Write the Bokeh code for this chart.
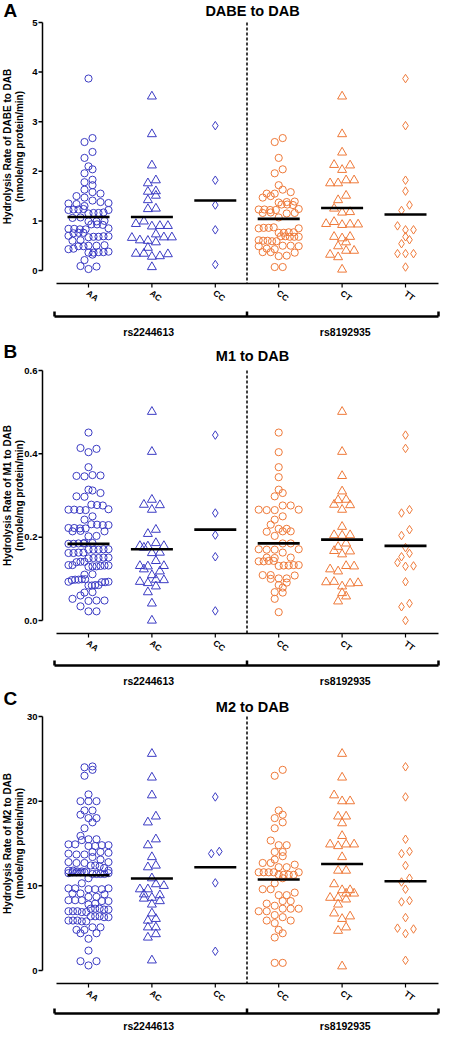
import math
from bokeh.plotting import figure
from bokeh.layouts import column
from bokeh.models import Range1d
from bokeh.core.properties import value
from bokeh.embed import file_html
from bokeh.resources import INLINE

# ---------------- data ----------------
CATEGORIES = ["AA", "AC", "CC", "CC", "CT", "TT"]
GROUP_LABELS = ["rs2244613", "rs8192935"]

# Panel A: DABE to DAB
A_AA = [3.87, 2.67, 2.59, 2.39, 2.27, 2.10, 2.04, 1.96, 1.83, 1.78, 1.72, 1.63, 1.58, 1.55, 1.50, 1.47,
        1.41, 1.38, 1.36, 1.35, 1.34, 1.30, 1.24, 1.23, 1.23, 1.22, 1.22, 1.17, 1.16, 1.16, 1.15, 1.07,
        1.06, 1.00, 0.99, 0.99, 0.93, 0.93, 0.92, 0.85, 0.84, 0.84, 0.83, 0.83, 0.76, 0.76, 0.75, 0.70,
        0.69, 0.69, 0.68, 0.68, 0.67, 0.61, 0.60, 0.51, 0.50, 0.50, 0.49, 0.49, 0.44, 0.43, 0.38, 0.37,
        0.37, 0.36, 0.36, 0.32, 0.21, 0.09, 0.08, 0.03]
A_AC = [3.51, 2.75, 2.12, 1.82, 1.76, 1.60, 1.59, 1.51, 1.42, 1.25, 1.24, 0.99, 0.94, 0.90, 0.90, 0.89,
        0.73, 0.67, 0.67, 0.66, 0.61, 0.60, 0.57, 0.46, 0.34, 0.34, 0.33, 0.29, 0.28, 0.07]
A_CC1 = [2.92, 1.82, 1.32, 0.82, 0.12]
A_CC2 = [2.67, 2.59, 2.27, 2.04, 1.96, 1.72, 1.63, 1.58, 1.55, 1.55, 1.50, 1.47, 1.39, 1.38, 1.37, 1.33,
         1.33, 1.32, 1.24, 1.23, 1.23, 1.22, 1.22, 1.17, 1.16, 1.16, 1.15, 1.07, 0.87, 0.86, 0.86, 0.85,
         0.85, 0.77, 0.77, 0.76, 0.76, 0.69, 0.69, 0.68, 0.68, 0.68, 0.61, 0.60, 0.60, 0.59, 0.59, 0.50,
         0.50, 0.49, 0.49, 0.44, 0.43, 0.37, 0.37, 0.36, 0.30, 0.29, 0.07, 0.07]
A_CT = [3.51, 2.75, 2.38, 2.13, 2.12, 2.03, 1.82, 1.82, 1.76, 1.76, 1.51, 1.42, 1.25, 1.18, 1.17, 0.98,
        0.94, 0.93, 0.93, 0.92, 0.68, 0.68, 0.65, 0.57, 0.49, 0.40, 0.40, 0.32, 0.27, 0.02]
A_TT = [3.87, 2.92, 1.82, 1.60, 1.32, 1.21, 0.90, 0.82, 0.82, 0.68, 0.62, 0.54, 0.34, 0.34, 0.34, 0.07]
A_MEANS = [1.08, 1.08, 1.41, 1.04, 1.26, 1.13]
A_TICKS = [0, 1, 2, 3, 4, 5]
A_TICK_LABELS = ["0", "1", "2", "3", "4", "5"]

# Panel B: M1 to DAB
B_AA = [0.451, 0.414, 0.412, 0.404, 0.368, 0.349, 0.348, 0.347, 0.346, 0.314, 0.312, 0.306, 0.298, 0.297,
        0.278, 0.277, 0.276, 0.267, 0.266, 0.266, 0.265, 0.265, 0.250, 0.242, 0.231, 0.230, 0.229, 0.229,
        0.222, 0.222, 0.221, 0.221, 0.215, 0.214, 0.214, 0.203, 0.202, 0.186, 0.186, 0.185, 0.185, 0.184,
        0.184, 0.171, 0.171, 0.170, 0.170, 0.170, 0.163, 0.163, 0.162, 0.162, 0.151, 0.151, 0.150, 0.150,
        0.149, 0.141, 0.141, 0.140, 0.133, 0.133, 0.132, 0.132, 0.131, 0.130, 0.130, 0.129, 0.111, 0.110,
        0.099, 0.099, 0.098, 0.098, 0.097, 0.093, 0.093, 0.092, 0.092, 0.085, 0.085, 0.084, 0.084, 0.068,
        0.067, 0.060, 0.052, 0.048, 0.048, 0.047, 0.034, 0.022, 0.022]
B_AC = [0.501, 0.405, 0.290, 0.278, 0.277, 0.266, 0.218, 0.208, 0.186, 0.179, 0.179, 0.178, 0.175, 0.163,
        0.162, 0.143, 0.131, 0.131, 0.130, 0.123, 0.118, 0.109, 0.098, 0.097, 0.093, 0.090, 0.082, 0.068,
        0.041, 0.000]
B_CC1 = [0.445, 0.258, 0.205, 0.153, 0.023]
B_CC2 = [0.451, 0.404, 0.368, 0.344, 0.314, 0.306, 0.298, 0.276, 0.276, 0.266, 0.266, 0.265, 0.265, 0.250,
         0.242, 0.230, 0.220, 0.220, 0.214, 0.214, 0.213, 0.203, 0.185, 0.185, 0.171, 0.171, 0.170, 0.170,
         0.163, 0.151, 0.151, 0.150, 0.143, 0.143, 0.142, 0.142, 0.133, 0.133, 0.132, 0.132, 0.131, 0.109,
         0.109, 0.108, 0.101, 0.101, 0.100, 0.091, 0.085, 0.079, 0.068, 0.067, 0.052, 0.020]
B_CT = [0.501, 0.405, 0.347, 0.310, 0.290, 0.289, 0.278, 0.277, 0.266, 0.225, 0.205, 0.205, 0.204, 0.185,
        0.177, 0.167, 0.166, 0.159, 0.131, 0.130, 0.123, 0.118, 0.093, 0.092, 0.090, 0.089, 0.082, 0.066,
        0.058, 0.046]
B_TT = [0.445, 0.413, 0.266, 0.258, 0.218, 0.204, 0.175, 0.161, 0.153, 0.139, 0.131, 0.130, 0.093, 0.041,
        0.033, 0.000]
B_MEANS = [0.184, 0.171, 0.218, 0.185, 0.194, 0.179]
B_TICKS = [0, 0.2, 0.4, 0.6]
B_TICK_LABELS = ["0.0", "0.2", "0.4", "0.6"]

# Panel C: M2 to DAB
C_AA = [24.1, 24.0, 23.7, 23.0, 20.8, 20.0, 20.0, 20.0, 18.9, 18.9, 18.4, 18.0, 18.0, 17.5, 16.8, 15.9,
        15.5, 15.5, 15.4, 14.9, 14.9, 14.8, 14.8, 14.7, 14.7, 14.0, 14.0, 13.9, 13.8, 13.7, 13.7, 13.4,
        13.1, 12.8, 12.8, 12.7, 12.7, 12.4, 12.4, 12.3, 12.1, 11.8, 11.8, 11.8, 11.7, 11.7, 11.7, 11.6,
        11.6, 11.6, 11.6, 11.5, 11.5, 11.4, 11.4, 11.4, 11.4, 10.9, 10.3, 9.7, 9.7, 9.7, 9.6, 9.6, 9.6,
        9.1, 9.1, 9.0, 8.7, 8.7, 8.3, 8.3, 8.3, 8.2, 8.2, 7.9, 7.8, 7.3, 7.3, 7.3, 7.2, 7.2, 7.0, 7.0,
        7.0, 6.9, 6.9, 6.4, 6.4, 6.4, 6.3, 6.3, 5.9, 5.9, 5.9, 5.8, 5.8, 5.1, 5.1, 4.8, 4.8, 4.4, 4.4,
        3.75, 2.35, 1.1, 1.1, 0.6]
C_AC = [25.6, 22.8, 20.7, 18.2, 17.5, 15.5, 14.8, 13.4, 12.4, 12.2, 10.9, 10.2, 10.0, 9.6, 9.6, 9.0,
        8.9, 8.6, 8.5, 8.2, 7.8, 6.75, 6.1, 5.9, 5.1, 5.1, 4.3, 3.9, 1.2]
C_CC1 = [20.5, 14.06, 13.8, 10.35, 2.27]
C_CC2 = [23.7, 23.0, 18.9, 18.4, 18.0, 17.5, 16.8, 15.35, 14.8, 14.8, 14.0, 14.0, 13.5, 13.1, 12.7, 12.7,
         12.5, 12.2, 12.2, 11.6, 11.6, 11.6, 11.6, 11.6, 11.3, 11.3, 11.3, 11.3, 10.9, 10.3, 9.6, 9.6,
         9.2, 8.9, 8.9, 8.2, 8.2, 7.9, 7.65, 7.3, 7.3, 7.3, 7.0, 7.0, 6.55, 6.3, 5.9, 5.9, 5.6, 4.8, 4.4,
         3.9, 0.9, 0.9]
C_CT = [25.6, 22.8, 20.7, 20.0, 20.0, 18.2, 18.2, 17.4, 15.9, 14.9, 14.9, 14.9, 14.7, 13.4, 11.8, 11.8,
        10.2, 9.5, 9.5, 9.1, 9.1, 8.6, 8.6, 8.4, 7.8, 6.75, 6.4, 6.1, 5.1, 4.7, 0.5]
C_TT = [24.06, 20.5, 15.5, 14.06, 13.8, 12.4, 10.9, 10.45, 9.6, 8.25, 8.1, 6.25, 5.0, 4.9, 4.35, 1.2]
C_MEANS = [11.25, 10.86, 12.2, 10.75, 12.58, 10.55]
C_TICKS = [0, 10, 20, 30]
C_TICK_LABELS = ["0", "10", "20", "30"]

PANELS = [
    dict(letter="A", title="DABE to DAB", ylabel="Hydrolysis Rate of DABE to DAB",
         groups=[A_AA, A_AC, A_CC1, A_CC2, A_CT, A_TT], means=A_MEANS,
         ticks=A_TICKS, tick_labels=A_TICK_LABELS),
    dict(letter="B", title="M1 to DAB", ylabel="Hydrolysis Rate of M1 to DAB",
         groups=[B_AA, B_AC, B_CC1, B_CC2, B_CT, B_TT], means=B_MEANS,
         ticks=B_TICKS, tick_labels=B_TICK_LABELS),
    dict(letter="C", title="M2 to DAB", ylabel="Hydrolysis Rate of M2 to DAB",
         groups=[C_AA, C_AC, C_CC1, C_CC2, C_CT, C_TT], means=C_MEANS,
         ticks=C_TICKS, tick_labels=C_TICK_LABELS),
]
YLABEL2 = "(nmole/mg protein/min)"

# ---------------- layout / style ----------------
W = 441
SX = 63.4          # px per category
X0 = 88            # px of first category
X_YAXIS = 42
LAYOUT = [  # height, letter y, title y, top-tick y, zero y, x-axis y, bracket y, group-label y
    dict(H=340, ly=10, ty=10, ptop=22, p0=270, pxa=283, pbr=316, pgl=331),
    dict(H=346, ly=11, ty=15, ptop=30, p0=280, pxa=293, pbr=325, pgl=340),
    dict(H=346, ly=12, ty=20, ptop=30, p0=284, pxa=297, pbr=327, pgl=339),
]
BLUE = "#3C3CC4"
ORANGE = "#EF7A3A"
COLORS = [BLUE] * 3 + [ORANGE] * 3
MARKERS = ["circle", "triangle", "diamond"] * 2
SIZES = {"circle": 7.2, "triangle": 9, "diamond": 8.5}
FONT = value("Liberation Sans")
BIN_H = 6.5     # px, height of a row of points
SPACING = 8.0   # px between neighbours in a row
MAX_HW = 20.0   # px, half-width of a column of points


def px2x(px):
    return 1 + (px - X0) / SX


def scatter_offsets(vals, sy):
    """Prism-like column scatter: points grouped in rows, spread side by side."""
    n = len(vals)
    order = sorted(range(n), key=lambda i: vals[i])
    rows, cur, start = [], [], None
    for i in order:
        y = vals[i] * sy
        if cur and y - start > BIN_H:
            rows.append(cur)
            cur = []
        if not cur:
            start = y
        cur.append(i)
    if cur:
        rows.append(cur)
    xs = [0.0] * n
    for row in rows:
        m = len(row)
        sp = SPACING if (m - 1) * SPACING <= 2 * MAX_HW else 2 * MAX_HW / (m - 1)
        slots = [(j - (m - 1) / 2) * sp for j in range(m)]
        slots.sort(key=lambda s: (abs(s), s))           # centre outwards
        srt = sorted(row, key=lambda i: vals[i])
        inter = []
        lo, hi = 0, len(srt) - 1
        while lo <= hi:
            inter.append(srt[lo]); lo += 1
            if lo <= hi:
                inter.append(srt[hi]); hi -= 1
        for i, s in zip(inter, slots):
            xs[i] = s
    return xs


figs = []
for panel, lay in zip(PANELS, LAYOUT):
    H = lay["H"]
    vmax = panel["ticks"][-1]
    SY = (lay["p0"] - lay["ptop"]) / vmax

    def py2y(py, SY=SY, lay=lay):
        return (lay["p0"] - py) / SY

    p = figure(width=W, height=H, x_range=Range1d(px2x(0), px2x(W)),
               y_range=Range1d(py2y(H), py2y(0)), x_axis_type=None, y_axis_type=None,
               toolbar_location=None, output_backend="svg", min_border=0,
               outline_line_color=None)
    p.background_fill_color = "white"
    p.border_fill_color = "white"

    # points
    for k, vals in enumerate(panel["groups"]):
        offs = scatter_offsets(vals, SY)
        xs = [k + 1 + o / SX for o in offs]
        m = MARKERS[k]
        p.scatter(xs, vals, marker=m, size=SIZES[m], fill_color=None,
                  line_color=COLORS[k], line_width=1)

    cats = list(range(1, len(CATEGORIES) + 1))
    # mean lines
    hw = 21 / SX
    p.segment(x0=[c - hw for c in cats], x1=[c + hw for c in cats], y0=panel["means"],
              y1=panel["means"], line_color="black", line_width=2.6)

    # y axis
    xya = px2x(X_YAXIS)
    nt = len(panel["ticks"])
    p.segment(x0=[xya], x1=[xya], y0=[0], y1=[vmax], line_color="black", line_width=1.5)
    p.segment(x0=[xya] * nt, x1=[xya - 4 / SX] * nt,
              y0=panel["ticks"], y1=panel["ticks"], line_color="black", line_width=1.5)
    p.text(x=[xya - 5 / SX] * nt, y=panel["ticks"], text=panel["tick_labels"],
           text_font=FONT, text_font_style="bold", text_font_size="9.5px",
           text_align="right", text_baseline="middle", text_color="black")
    p.text(x=[px2x(7), px2x(19)], y=[vmax / 2] * 2, text=[panel["ylabel"], YLABEL2],
           angle=math.pi / 2, text_font=FONT, text_font_style="bold", text_font_size="10px",
           text_align="center", text_baseline="middle", text_color="black")

    # x axis
    yxa = py2y(lay["pxa"])
    xa0, xa1 = px2x(56), px2x(438)
    p.segment(x0=[xa0], x1=[xa1], y0=[yxa], y1=[yxa], line_color="black", line_width=1.5)
    p.segment(x0=cats, x1=cats, y0=[yxa] * 6, y1=[py2y(lay["pxa"] + 4)] * 6,
              line_color="black", line_width=1.2)
    p.text(x=[c + 4 / SX for c in cats], y=[py2y(lay["pxa"] + 12)] * 6, text=CATEGORIES,
           angle=-0.65, text_font=FONT, text_font_style="bold", text_font_size="8.5px",
           text_align="center", text_baseline="middle", text_color="black")

    # dashed separator
    p.segment(x0=[3.5], x1=[3.5], y0=[vmax], y1=[yxa], line_color="black", line_width=1.5,
              line_dash="3 2")

    # bracket
    ybr = py2y(lay["pbr"])
    ytk = py2y(lay["pbr"] - 5)
    bx0, bmid, bx1 = px2x(54), 3.5, px2x(438)
    p.segment(x0=[bx0], x1=[bx1], y0=[ybr], y1=[ybr], line_color="black", line_width=2.5)
    p.segment(x0=[bx0, bmid, bx1], x1=[bx0, bmid, bx1], y0=[ybr] * 3, y1=[ytk] * 3,
              line_color="black", line_width=2.5)
    p.text(x=[1.95, 5.05], y=[py2y(lay["pgl"])] * 2, text=GROUP_LABELS,
           text_font=FONT, text_font_style="bold", text_font_size="10.5px",
           text_align="center", text_baseline="middle", text_color="black")

    # title and panel letter
    p.text(x=[px2x(252)], y=[py2y(lay["ty"])], text=[panel["title"]], text_font=FONT,
           text_font_style="bold", text_font_size="14.5px", text_align="center",
           text_baseline="middle", text_color="black")
    p.text(x=[px2x(3)], y=[py2y(lay["ly"])], text=[panel["letter"]], text_font=FONT,
           text_font_style="bold", text_font_size="19px", text_align="left",
           text_baseline="middle", text_color="black")
    figs.append(p)

layout = column(*figs, spacing=0)
open("out.html", "w").write(file_html(layout, INLINE))
